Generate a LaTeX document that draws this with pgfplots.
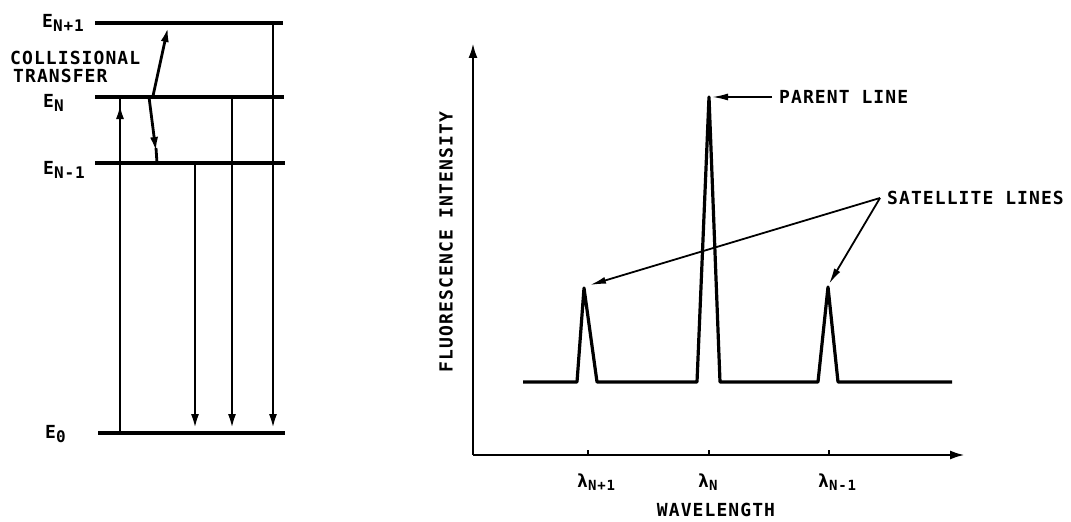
\documentclass[border=0pt]{standalone}
\usepackage{fontspec}
\usepackage{pgfplots}
\pgfplotsset{compat=1.18}
\usetikzlibrary{arrows.meta}

% stencil-like lettering
\newfontfamily\lettering{DejaVu Sans Mono Bold}[LetterSpace=6]
\newcommand\lbl{\fontsize{18}{18}\selectfont\lettering}
\newcommand\esub[1]{\raisebox{-4pt}{\fontsize{16}{16}\selectfont #1}}
\newcommand\lsub[1]{\raisebox{-3pt}{\fontsize{14}{14}\selectfont #1}}

\tikzset{
  level/.style={black, line width=3.2pt, no marks},
  trans/.style={black, line width=2.8pt, no marks},
  tip/.style={-{Latex[length=15pt,width=8pt]}},
  ann/.style={black, line width=1.8pt, -{Latex[length=16pt,width=7pt]}},
  lab/.style={inner sep=0pt, font=\lbl},
}

\begin{document}
\begin{tikzpicture}
\useasboundingbox (0pt,0pt) rectangle (1071pt,522pt);

% ---- energy level diagram (pixel-like coordinates, y downwards)
\begin{axis}[
  at={(0pt,0pt)}, anchor=south west,
  scale only axis, width=300pt, height=522pt,
  xmin=0, xmax=300, ymin=0, ymax=522,
  y dir=reverse,
  axis lines=none,
  clip=false,
]
% levels E_{N+1}, E_N, E_{N-1}, E_0
\addplot[level] coordinates {(95,23) (283,23)};
\addplot[level] coordinates {(95,97) (284,97)};
\addplot[level] coordinates {(95,163) (285,163)};
\addplot[level] coordinates {(98,433) (285,433)};

% excitation E_0 -> E_N
\addplot[trans, tip] coordinates {(120,433) (120,104)};
\addplot[trans] coordinates {(120,110) (120,97)};

% collisional transfer
\addplot[trans, tip] coordinates {(153,96) (168,27)};
\addplot[trans, tip] coordinates {(149,97) (156,152)};
\addplot[trans] coordinates {(156,148) (157,163)};

% fluorescence down to E_0
\addplot[trans, tip] coordinates {(195,163) (195,429)};
\addplot[trans, tip] coordinates {(232,97) (232,429)};
\addplot[trans, tip] coordinates {(273,23) (273,429)};

\node[lab, anchor=base west] at (axis cs:42,28) {E\esub{N+1}};
\node[lab, anchor=base west] at (axis cs:10,65) {COLLISIONAL};
\node[lab, anchor=base west] at (axis cs:13,82) {TRANSFER};
\node[lab, anchor=base west] at (axis cs:43,107) {E\esub{N}};
\node[lab, anchor=base west] at (axis cs:43,174) {E\esub{N-1}};
\node[lab, anchor=base west] at (axis cs:45,438) {E\esub{0}};
\end{axis}

% ---- fluorescence spectrum
\begin{axis}[
  at={(473pt,67pt)}, anchor=south west,
  scale only axis, width=492pt, height=412pt,
  xmin=0, xmax=492, ymin=0, ymax=412,
  axis lines=left,
  axis line style={black, line width=2.6pt, -{Latex[length=15pt,width=9pt]}},
  xtick={115,236,356},
  xticklabels={{λ\lsub{N+1}}, {λ\lsub{N}}, {λ\lsub{N-1}}},
  ytick=\empty,
  tick align=inside,
  major tick length=5pt,
  tick style={black, line width=1.4pt},
  xticklabel style={font=\lbl, inner sep=0pt, anchor=base west, xshift=-11pt, yshift=-33pt},
  xlabel={WAVELENGTH},
  xlabel style={font=\lbl, inner sep=0pt, at={(axis cs:243,0)}, anchor=base, yshift=-61pt},
  ylabel={FLUORESCENCE INTENSITY},
  ylabel style={font=\lbl, inner sep=0pt, at={(axis cs:-27,213)}, anchor=center},
  clip=false,
]
\addplot[black, line width=3.2pt, line join=round, no marks] table {
x y
50 73
104 73
111 167
124 73
224 73
236 358
247 73
345 73
355 168
365 73
479 73
};

\node[lab, anchor=west] at (axis cs:306,358) {PARENT LINE};
\draw[ann] (axis cs:299,358) -- (axis cs:239,358);

\node[lab, anchor=west] at (axis cs:414,257) {SATELLITE LINES};
\draw[ann] (axis cs:407,257) -- (axis cs:117,170);
\draw[ann] (axis cs:407,257) -- (axis cs:356,171);
\end{axis}
\end{tikzpicture}
\end{document}
